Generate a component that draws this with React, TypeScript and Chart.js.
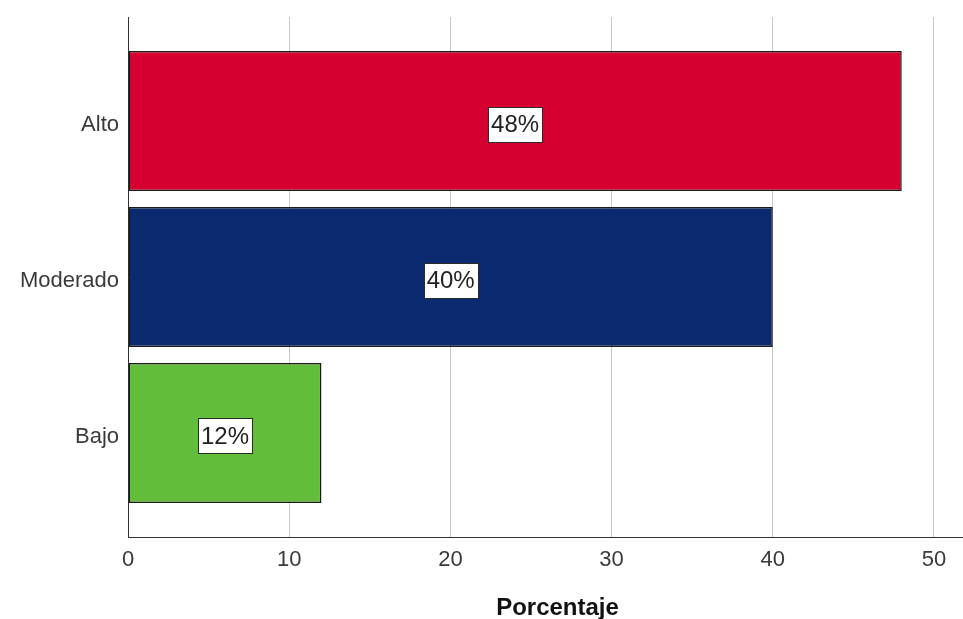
import React, { useEffect, useRef } from "react";
import { Chart, registerables } from "chart.js";

Chart.register(...registerables);

const categories = ["Alto", "Moderado", "Bajo"];
const values = [48, 40, 12];
const barColors = ["#D5002F", "#0B296E", "#62BE3A"];
const xTickValues = [0, 10, 20, 30, 40, 50];
const axisTitle = "Porcentaje";

const FONT = "'Liberation Sans', Arial, Helvetica, sans-serif";

const labelPlugin = {
  id: "barLabels",
  afterDatasetsDraw(chart: any) {
    const ctx = chart.ctx;
    const meta = chart.getDatasetMeta(0);
    ctx.save();
    ctx.font = `24px ${FONT}`;
    ctx.textAlign = "center";
    ctx.textBaseline = "middle";
    meta.data.forEach((el: any, i: number) => {
      const p = el.getProps(["x", "y", "base"], true);
      const text = `${values[i]}%`;
      const cx = (p.x + p.base) / 2;
      const cy = p.y + 3;
      const w = ctx.measureText(text).width + 6;
      const h = 35;
      ctx.fillStyle = "#ffffff";
      ctx.fillRect(Math.round(cx - w / 2) + 0.5, Math.round(cy - h / 2) + 0.5, Math.round(w), h);
      ctx.strokeStyle = "#2b2b2b";
      ctx.lineWidth = 1;
      ctx.strokeRect(Math.round(cx - w / 2) + 0.5, Math.round(cy - h / 2) + 0.5, Math.round(w), h);
      ctx.fillStyle = "#222222";
      ctx.fillText(text, cx, cy + 1);
    });
    ctx.restore();
  },
};

const titlePlugin = {
  id: "axisTitle",
  afterDraw(chart: any) {
    const ctx = chart.ctx;
    const area = chart.chartArea;
    ctx.save();
    ctx.font = `bold 24px ${FONT}`;
    ctx.fillStyle = "#111111";
    ctx.textAlign = "center";
    ctx.textBaseline = "alphabetic";
    ctx.fillText(axisTitle, (area.left + area.right) / 2 + 12, chart.height - 4);
    ctx.restore();
  },
};

export default function App() {
  const canvasRef = useRef<HTMLCanvasElement | null>(null);

  useEffect(() => {
    document.body.style.margin = "0";
    const canvas = canvasRef.current;
    if (!canvas) return;
    const chart = new Chart(canvas, {
      type: "bar",
      data: {
        datasets: [
          {
            data: values.map((v, i) => ({ x: v, y: i })),
            backgroundColor: barColors,
            borderColor: "#1a1a1a",
            borderWidth: 1.5,
            borderSkipped: false,
            barPercentage: 0.897,
            categoryPercentage: 1,
          },
        ],
      },
      options: {
        indexAxis: "y",
        animation: false,
        responsive: true,
        maintainAspectRatio: false,
        layout: { padding: { top: 17, left: 0, right: 0, bottom: 0 } },
        plugins: {
          legend: { display: false },
          tooltip: { enabled: false },
          title: { display: false },
        },
        scales: {
          x: {
            type: "linear",
            min: 0,
            max: 51.8,
            offset: false,
            afterBuildTicks: (scale: any) => {
              scale.ticks = xTickValues.map((v) => ({ value: v }));
            },
            afterFit: (scale: any) => {
              scale.height = 82;
            },
            grid: { color: "#c8c8c8", lineWidth: 1, drawTicks: false },
            border: { display: true, color: "#333333", width: 1 },
            ticks: {
              color: "#3a3a3a",
              font: { family: FONT, size: 22 },
              padding: 10,
              maxRotation: 0,
            },
          },
          y: {
            type: "linear",
            reverse: true,
            offset: false,
            min: -0.667,
            max: 2.667,
            afterBuildTicks: (scale: any) => {
              scale.ticks = categories.map((_, i) => ({ value: i }));
            },
            afterFit: (scale: any) => {
              scale.width = 128;
              scale.paddingTop = 0;
              scale.paddingBottom = 0;
            },
            grid: { display: false, drawTicks: false },
            border: { display: true, color: "#333333", width: 1 },
            ticks: {
              color: "#3a3a3a",
              font: { family: FONT, size: 22 },
              padding: 9,
              labelOffset: 4,
              callback: (v: any) => categories[Number(v)] ?? "",
            },
          },
        },
      },
      plugins: [labelPlugin, titlePlugin],
    });
    return () => chart.destroy();
  }, []);

  return (
    <div style={{ position: "absolute", left: 0, top: 0, width: 963, height: 619, background: "#ffffff" }}>
      <canvas ref={canvasRef} />
    </div>
  );
}
